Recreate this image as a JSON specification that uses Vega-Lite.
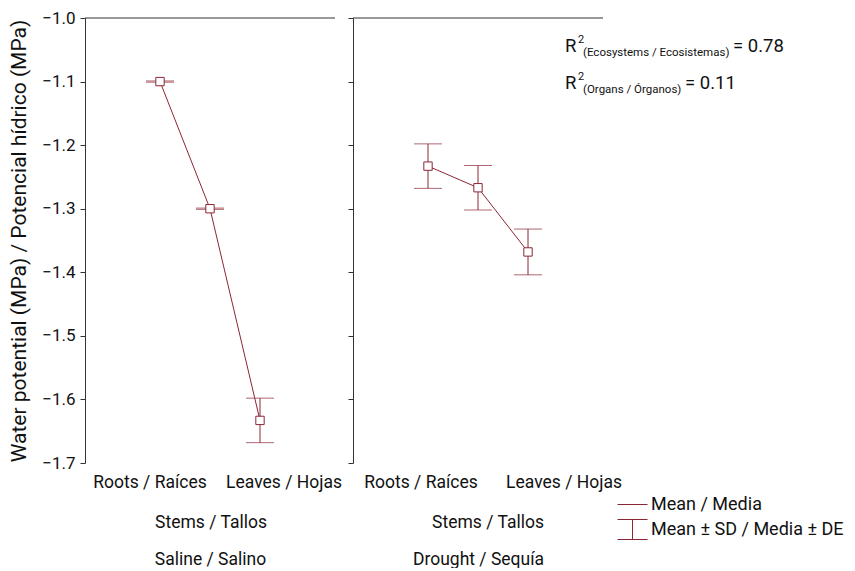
{
  "$schema": "https://vega.github.io/schema/vega-lite/v6.json",
  "padding": {"left": 8, "top": 9, "right": 0, "bottom": 0},
  "background": "white",
  "config": {
    "font": "Roboto",
    "view": {"stroke": null},
    "axis": {"domainColor": "#333", "tickColor": "#333", "labelColor": "#111", "titleColor": "#111", "titleFontWeight": "normal", "grid": false}
  },
  "datasets": {
    "main": [
      {"ecosystem": "Saline / Salino", "organ": "Roots / Raíces", "mean": -1.100, "sd": 0.001},
      {"ecosystem": "Saline / Salino", "organ": "Stems / Tallos", "mean": -1.300, "sd": 0.001},
      {"ecosystem": "Saline / Salino", "organ": "Leaves / Hojas", "mean": -1.633, "sd": 0.035},
      {"ecosystem": "Drought / Sequía", "organ": "Roots / Raíces", "mean": -1.233, "sd": 0.035},
      {"ecosystem": "Drought / Sequía", "organ": "Stems / Tallos", "mean": -1.267, "sd": 0.035},
      {"ecosystem": "Drought / Sequía", "organ": "Leaves / Hojas", "mean": -1.368, "sd": 0.036}
    ],
    "legend": [
      {"key": "Mean / Media"},
      {"key": "Mean ± SD / Media ± DE"}
    ]
  },
  "spacing": 18,
  "bounds": "flush",
  "hconcat": [
    {
      "width": 250,
      "height": 445,
      "layer": [
        {
          "data": {"values": [{}]},
          "mark": {"type": "rule", "color": "#333", "strokeWidth": 1},
          "encoding": {"y": {"datum": -1.0, "type": "quantitative", "scale": {"domain": [-1.7, -1.0], "nice": false, "zero": false}, "title": "Water potential (MPa) / Potencial hídrico (MPa)"}}
        },
        {
          "data": {"name": "main"},
          "transform": [{"filter": "datum.ecosystem == 'Saline / Salino'"}],
          "mark": {"type": "errorbar", "color": "#8B2635", "thickness": 1, "ticks": {"size": 28, "thickness": 1, "color": "#8B2635"}},
          "encoding": {
            "x": {"field": "organ", "type": "nominal", "sort": ["Roots / Raíces", "Stems / Tallos", "Leaves / Hojas"], "scale": {"type": "band", "paddingInner": 0, "paddingOuter": 1}},
            "y": {"field": "mean", "type": "quantitative", "scale": {"domain": [-1.7, -1.0], "nice": false, "zero": false}, "title": "Water potential (MPa) / Potencial hídrico (MPa)"},
            "yError": {"field": "sd"}
          }
        },
        {
          "data": {"name": "main"},
          "transform": [{"filter": "datum.ecosystem == 'Saline / Salino'"}],
          "mark": {"type": "line", "color": "#8B2635", "strokeWidth": 1},
          "encoding": {
            "x": {"field": "organ", "type": "nominal", "sort": ["Roots / Raíces", "Stems / Tallos", "Leaves / Hojas"], "scale": {"type": "band", "paddingInner": 0, "paddingOuter": 1}},
            "y": {"field": "mean", "type": "quantitative", "scale": {"domain": [-1.7, -1.0], "nice": false, "zero": false}, "title": "Water potential (MPa) / Potencial hídrico (MPa)"}
          }
        },
        {
          "data": {"name": "main"},
          "transform": [{"filter": "datum.ecosystem == 'Saline / Salino'"}],
          "mark": {"type": "point", "shape": "square", "filled": true, "fill": "white", "stroke": "#8B2635", "strokeWidth": 1, "size": 70, "opacity": 1},
          "encoding": {
            "x": {"field": "organ", "type": "nominal", "sort": ["Roots / Raíces", "Stems / Tallos", "Leaves / Hojas"], "scale": {"type": "band", "paddingInner": 0, "paddingOuter": 1},
              "axis": {"title": "Saline / Salino", "titleFontSize": 17.5, "titlePadding": 20, "domain": false, "ticks": false, "tickSize": 0, "labelAngle": 0, "labelAlign": "center", "labelFontSize": 17.5, "labelBaseline": "top",
                "labelPadding": {"expr": "datum.value == 'Stems / Tallos' ? 50 : 10"},
                "labelOffset": {"expr": "datum.value == 'Roots / Raíces' ? -10 : (datum.value == 'Leaves / Hojas' ? 24 : 1)"}}},
            "y": {"field": "mean", "type": "quantitative", "scale": {"domain": [-1.7, -1.0], "nice": false, "zero": false}, "title": "Water potential (MPa) / Potencial hídrico (MPa)",
              "axis": {"values": [-1.7, -1.6, -1.5, -1.4, -1.3, -1.2, -1.1, -1.0], "format": ".1f", "tickSize": 5, "labelPadding": 5, "labelFontSize": 17, "titleFontSize": 21, "titlePadding": 12}}
          }
        }
      ]
    },
    {
      "width": 250,
      "height": 445,
      "layer": [
        {
          "data": {"values": [{}]},
          "mark": {"type": "rule", "color": "#333", "strokeWidth": 1},
          "encoding": {"y": {"datum": -1.0, "type": "quantitative", "scale": {"domain": [-1.7, -1.0], "nice": false, "zero": false}, "title": null}}
        },
        {
          "data": {"name": "main"},
          "transform": [{"filter": "datum.ecosystem == 'Drought / Sequía'"}],
          "mark": {"type": "errorbar", "color": "#8B2635", "thickness": 1, "ticks": {"size": 28, "thickness": 1, "color": "#8B2635"}},
          "encoding": {
            "x": {"field": "organ", "type": "nominal", "sort": ["Roots / Raíces", "Stems / Tallos", "Leaves / Hojas"], "scale": {"type": "band", "paddingInner": 0, "paddingOuter": 1}},
            "y": {"field": "mean", "type": "quantitative", "scale": {"domain": [-1.7, -1.0], "nice": false, "zero": false}, "title": null},
            "yError": {"field": "sd"}
          }
        },
        {
          "data": {"name": "main"},
          "transform": [{"filter": "datum.ecosystem == 'Drought / Sequía'"}],
          "mark": {"type": "line", "color": "#8B2635", "strokeWidth": 1},
          "encoding": {
            "x": {"field": "organ", "type": "nominal", "sort": ["Roots / Raíces", "Stems / Tallos", "Leaves / Hojas"], "scale": {"type": "band", "paddingInner": 0, "paddingOuter": 1}},
            "y": {"field": "mean", "type": "quantitative", "scale": {"domain": [-1.7, -1.0], "nice": false, "zero": false}, "title": null}
          }
        },
        {
          "data": {"name": "main"},
          "transform": [{"filter": "datum.ecosystem == 'Drought / Sequía'"}],
          "mark": {"type": "point", "shape": "square", "filled": true, "fill": "white", "stroke": "#8B2635", "strokeWidth": 1, "size": 70, "opacity": 1},
          "encoding": {
            "x": {"field": "organ", "type": "nominal", "sort": ["Roots / Raíces", "Stems / Tallos", "Leaves / Hojas"], "scale": {"type": "band", "paddingInner": 0, "paddingOuter": 1},
              "axis": {"title": "Drought / Sequía", "titleFontSize": 17.5, "titlePadding": 20, "domain": false, "ticks": false, "tickSize": 0, "labelAngle": 0, "labelAlign": "center", "labelFontSize": 17.5, "labelBaseline": "top",
                "labelPadding": {"expr": "datum.value == 'Stems / Tallos' ? 50 : 10"},
                "labelOffset": {"expr": "datum.value == 'Roots / Raíces' ? -7 : (datum.value == 'Leaves / Hojas' ? 36 : 10)"}}},
            "y": {"field": "mean", "type": "quantitative", "scale": {"domain": [-1.7, -1.0], "nice": false, "zero": false}, "title": null,
              "axis": {"values": [-1.7, -1.6, -1.5, -1.4, -1.3, -1.2, -1.1, -1.0], "labels": false, "tickSize": 5, "title": null}}
          }
        },
        {
          "data": {"values": [{}]},
          "mark": {"type": "text", "text": "R", "fontSize": 18.5, "align": "left", "baseline": "alphabetic", "dx": 37, "color": "#111"},
          "encoding": {"x": {"datum": "Leaves / Hojas"}, "y": {"datum": -1.0535}}
        },
        {
          "data": {"values": [{}]},
          "mark": {"type": "text", "text": "2", "fontSize": 11, "align": "left", "baseline": "alphabetic", "dx": 50, "dy": -9, "color": "#111"},
          "encoding": {"x": {"datum": "Leaves / Hojas"}, "y": {"datum": -1.0535}}
        },
        {
          "data": {"values": [{}]},
          "mark": {"type": "text", "text": "(Ecosystems / Ecosistemas)", "fontSize": 11.5, "align": "left", "baseline": "alphabetic", "dx": 55, "dy": 4, "color": "#111"},
          "encoding": {"x": {"datum": "Leaves / Hojas"}, "y": {"datum": -1.0535}}
        },
        {
          "data": {"values": [{}]},
          "mark": {"type": "text", "text": "= 0.78", "fontSize": 18.5, "align": "left", "baseline": "alphabetic", "dx": 205, "color": "#111"},
          "encoding": {"x": {"datum": "Leaves / Hojas"}, "y": {"datum": -1.0535}}
        },
        {
          "data": {"values": [{}]},
          "mark": {"type": "text", "text": "R", "fontSize": 18.5, "align": "left", "baseline": "alphabetic", "dx": 37, "color": "#111"},
          "encoding": {"x": {"datum": "Leaves / Hojas"}, "y": {"datum": -1.1117}}
        },
        {
          "data": {"values": [{}]},
          "mark": {"type": "text", "text": "2", "fontSize": 11, "align": "left", "baseline": "alphabetic", "dx": 50, "dy": -9, "color": "#111"},
          "encoding": {"x": {"datum": "Leaves / Hojas"}, "y": {"datum": -1.1117}}
        },
        {
          "data": {"values": [{}]},
          "mark": {"type": "text", "text": "(Organs / Órganos)", "fontSize": 11.5, "align": "left", "baseline": "alphabetic", "dx": 55, "dy": 4, "color": "#111"},
          "encoding": {"x": {"datum": "Leaves / Hojas"}, "y": {"datum": -1.1117}}
        },
        {
          "data": {"values": [{}]},
          "mark": {"type": "text", "text": "= 0.11", "fontSize": 18.5, "align": "left", "baseline": "alphabetic", "dx": 157, "color": "#111"},
          "encoding": {"x": {"datum": "Leaves / Hojas"}, "y": {"datum": -1.1117}}
        },
        {
          "data": {"name": "legend"},
          "mark": {"type": "point", "opacity": 0, "color": "#8B2635", "filled": false},
          "encoding": {
            "shape": {"field": "key", "type": "nominal",
              "scale": {"domain": ["Mean / Media", "Mean ± SD / Media ± DE"], "range": ["M-1.5,0H1.5", "M-1.5,-1H1.5M0,-1V1M-1.5,1H1.5"]},
              "legend": {"title": null, "orient": "none", "legendX": 537, "legendY": 476, "symbolSize": 400, "labelFontSize": 18, "labelColor": "#111", "labelLimit": 400, "labelOffset": 8, "rowPadding": 3, "symbolStrokeWidth": 1, "symbolStrokeColor": "#8B2635", "symbolFillColor": "transparent", "symbolOpacity": 1,
                "encode": {"symbols": {"update": {"opacity": {"value": 1}, "stroke": {"value": "#8B2635"}, "fill": {"value": "transparent"}, "strokeWidth": {"value": 1}}}}}
            }
          }
        }
      ]
    }
  ]
}
